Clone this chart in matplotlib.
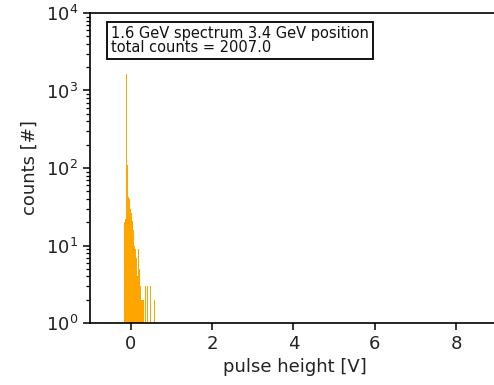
import numpy as np
import matplotlib
matplotlib.use("Agg")
import matplotlib.pyplot as plt
from matplotlib.transforms import offset_copy

# Histogram of pulse heights: left bin edges (V) and counts per bin
bin_width = 0.025
bin_left = [-0.160, -0.135, -0.110, -0.085, -0.060, -0.035, -0.010, 0.015,
            0.040, 0.065, 0.090, 0.115, 0.140, 0.165, 0.190, 0.215,
            0.240, 0.265, 0.290, 0.315, 0.340, 0.365, 0.390, 0.415,
            0.440, 0.465, 0.490, 0.515, 0.540, 0.565]
counts = [20, 22, 1620, 108, 42, 40, 30, 26,
          21, 16, 10, 9, 7, 4, 9, 5,
          3, 2, 2, 0, 3, 0, 3, 0,
          0, 3, 0, 0, 0, 2]

label_text = "1.6 GeV spectrum 3.4 GeV position\ntotal counts = %.1f" % float(sum(counts))

fig = plt.figure(figsize=(4.94, 3.85), dpi=100)
ax = fig.add_axes([90 / 494, 1 - 323 / 385, 1.01 - 90 / 494, (323 - 13) / 385])

edges = list(bin_left) + [bin_left[-1] + bin_width]
ax.hist(bin_left, bins=edges, weights=counts, color="orange")

ax.set_yscale("log")
ax.set_ylim(1, 1e4)
ax.set_xlim(-1.0, 9.05)
ax.set_xticks([0, 2, 4, 6, 8])
ax.set_xlabel("pulse height [V]", fontsize=13, color="#222222", labelpad=4)
ax.set_ylabel("counts [#]", fontsize=13, color="#222222", labelpad=5)
ax.tick_params(labelsize=13, labelcolor="#222222", length=5, width=1.1)
ax.tick_params(which="minor", length=3, width=0.9)
for sp in ax.spines.values():
    sp.set_linewidth(1.2)

ax.text(0.0, 1.0, label_text,
        transform=offset_copy(ax.transAxes, fig=fig, x=21, y=-13, units="dots"),
        fontsize=10.5, va="top", ha="left", linespacing=0.92, color="#111111",
        bbox=dict(boxstyle="square,pad=0.3", facecolor="white",
                  edgecolor="black", linewidth=1.3))

fig.savefig("out.png", dpi=100)
